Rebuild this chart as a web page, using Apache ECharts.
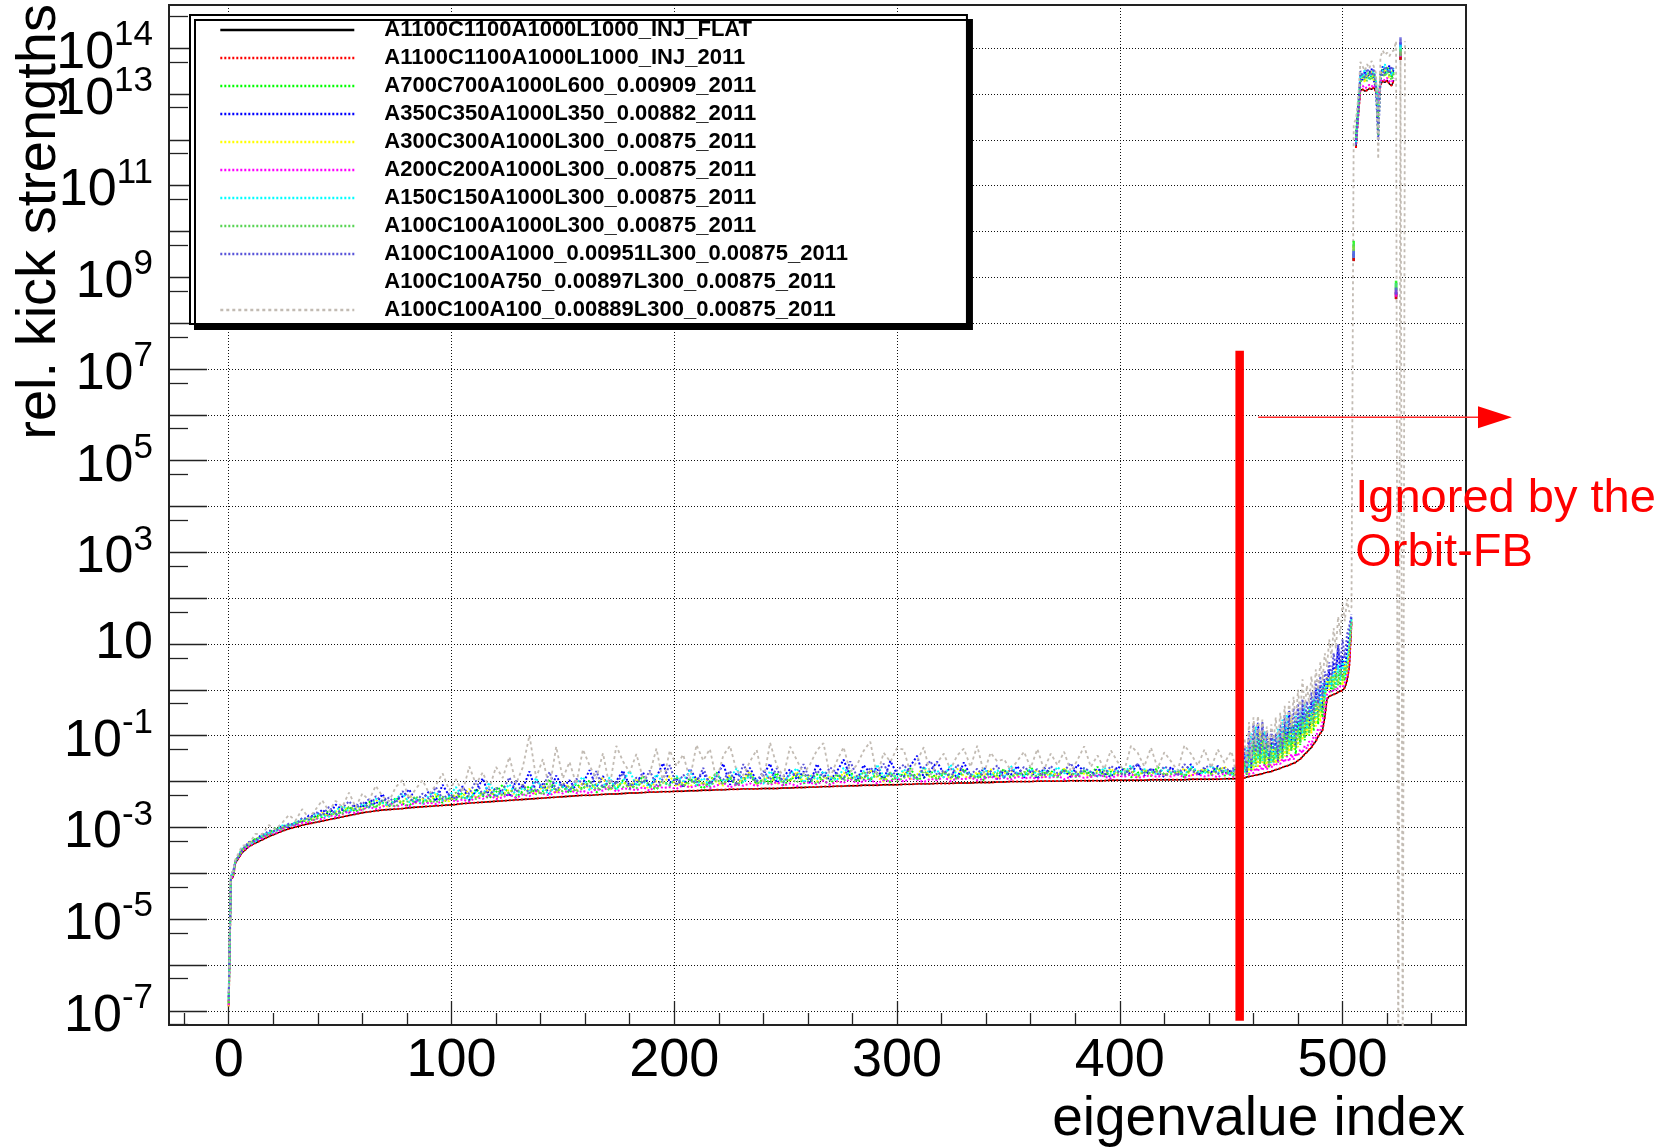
<!DOCTYPE html>
<html>
<head>
<meta charset="utf-8">
<title>rel. kick strengths vs eigenvalue index</title>
<script src="https://cdn.jsdelivr.net/npm/echarts@6/dist/echarts.min.js"></script>
<style>
  html, body { margin: 0; padding: 0; background: #ffffff; }
  #chart { width: 1676px; height: 1147px; }
</style>
</head>
<body>
<div id="chart"></div>
<script>
// Eigenvalue indices at which each spectrum is listed: every index at both
// ends, every third index along the flat middle part of the spectrum.
const eigIndex = [];
for (let i = 0; i <= 529; i += (i < 3 || i >= 450) ? 1 : 3) eigIndex.push(i);

// Tick positions (x: eigenvalue index, y: decade exponent)
const xMajorTicks = [0, 100, 200, 300, 400, 500];
const xMinorTicks = [-20, 20, 40, 60, 80, 120, 140, 160, 180, 220, 240, 260, 280, 320, 340, 360, 380, 420, 440, 460, 480, 520, 540];
const yDecades = [-7, -6, -5, -4, -3, -2, -1, 0, 1, 2, 3, 4, 5, 6, 7, 8, 9, 10, 11, 12, 13, 14];
const yLabelDecades = [-7, -5, -3, -1, 1, 3, 5, 7, 9, 11, 13, 14];

// Configuration names, in legend order
const configNames = [
  'A1100C1100A1000L1000_INJ_FLAT',
  'A1100C1100A1000L1000_INJ_2011',
  'A700C700A1000L600_0.00909_2011',
  'A350C350A1000L350_0.00882_2011',
  'A300C300A1000L300_0.00875_2011',
  'A200C200A1000L300_0.00875_2011',
  'A150C150A1000L300_0.00875_2011',
  'A100C100A1000L300_0.00875_2011',
  'A100C100A1000_0.00951L300_0.00875_2011',
  'A100C100A750_0.00897L300_0.00875_2011',
  'A100C100A100_0.00889L300_0.00875_2011'
];

// log10 of the relative kick strength, one value per entry of eigIndex
const flatLog = [
  -6.90, -4.12, -4.08,
  -3.78, -3.55, -3.42, -3.34, -3.27, -3.20, -3.14, -3.08, -3.03, -2.99,
  -2.95, -2.92, -2.89, -2.86, -2.83, -2.80, -2.77, -2.74, -2.71, -2.68,
  -2.66, -2.64, -2.62, -2.61, -2.60, -2.59, -2.57, -2.56, -2.55, -2.54,
  -2.53, -2.52, -2.51, -2.50, -2.48, -2.47, -2.46, -2.45, -2.44, -2.43,
  -2.42, -2.41, -2.40, -2.39, -2.38, -2.37, -2.36, -2.35, -2.34, -2.33,
  -2.32, -2.31, -2.30, -2.30, -2.29, -2.28, -2.27, -2.27, -2.26, -2.25,
  -2.25, -2.24, -2.23, -2.23, -2.22, -2.22, -2.21, -2.21, -2.20, -2.20,
  -2.19, -2.19, -2.18, -2.18, -2.17, -2.17, -2.16, -2.16, -2.16, -2.15,
  -2.15, -2.15, -2.14, -2.14, -2.13, -2.13, -2.12, -2.12, -2.11, -2.11,
  -2.10, -2.10, -2.09, -2.09, -2.08, -2.08, -2.08, -2.07, -2.07, -2.07,
  -2.06, -2.06, -2.05, -2.05, -2.05, -2.04, -2.04, -2.04, -2.03, -2.03,
  -2.03, -2.02, -2.02, -2.02, -2.01, -2.01, -2.00, -2.00, -2.00, -2.00,
  -1.99, -1.99, -1.99, -1.99, -1.99, -1.98, -1.98, -1.98, -1.98, -1.98,
  -1.98, -1.97, -1.97, -1.97, -1.97, -1.97, -1.97, -1.96, -1.96, -1.96,
  -1.96, -1.96, -1.96, -1.95, -1.95, -1.95, -1.95, -1.95, -1.94, -1.94,
  -1.94, -1.94, -1.93, -1.93, -1.93, -1.92, -1.90, -1.89, -1.88, -1.87,
  -1.86, -1.85, -1.84, -1.83, -1.81, -1.80, -1.79, -1.78, -1.76, -1.74,
  -1.73, -1.71, -1.69, -1.67, -1.66, -1.64, -1.62, -1.60, -1.58, -1.54,
  -1.51, -1.46, -1.40, -1.36, -1.30, -1.26, -1.18, -1.12, -1.02, -0.95,
  -0.88, -0.60, -0.20, -0.14, -0.12, -0.10, -0.08, -0.05, -0.03, -0.01,
  0.05, 0.20, 0.50, 1.45,
  9.43, 11.82, 12.50, 13.08, 13.10, 13.06, 13.08, 13.12, 13.10, 13.14,
  13.05, 12.85, 13.20, 13.28, 13.25, 13.30, 13.22, 13.18, 13.30, 8.60,
  null, 13.82, null, null, null
];

// the 2011 injection optics gives the same spectrum as the flat one
const inj2011Log = flatLog.slice();

const a700Log = [
  -6.85, -4.08, -4.02,
  -3.75, -3.47, -3.37, -3.24, -3.23, -3.13, -3.02, -3.02, -2.94, -2.94,
  -2.85, -2.88, -2.74, -2.78, -2.63, -2.74, -2.65, -2.56, -2.66, -2.54,
  -2.44, -2.55, -2.46, -2.54, -2.35, -2.48, -2.53, -2.37, -2.42, -2.46,
  -2.32, -2.46, -2.36, -2.40, -2.24, -2.42, -2.16, -2.31, -2.36, -2.23,
  -2.07, -2.29, -2.34, -2.21, -2.10, -2.28, -2.21, -1.95, -2.23, -2.11,
  -2.25, -2.05, -2.17, -1.97, -2.24, -2.11, -2.03, -2.17, -1.97, -2.17,
  -2.06, -1.88, -2.11, -2.17, -2.00, -2.07, -1.90, -2.12, -1.93, -2.06,
  -2.15, -1.99, -1.80, -2.07, -1.92, -2.10, -2.00, -1.86, -2.06, -1.94,
  -2.02, -1.81, -2.08, -1.96, -1.87, -2.04, -1.98, -1.84, -1.99, -2.06,
  -1.87, -1.93, -1.77, -2.01, -1.88, -1.97, -1.81, -1.92, -2.01, -1.83,
  -1.87, -1.71, -1.95, -1.92, -1.76, -1.97, -1.82, -1.88, -1.94, -1.72,
  -1.91, -1.84, -1.97, -1.77, -1.87, -1.73, -1.92, -1.80, -1.89, -1.67,
  -1.93, -1.82, -1.76, -1.89, -1.72, -1.85, -1.91, -1.77, -1.83, -1.68,
  -1.89, -1.78, -1.85, -1.72, -1.91, -1.81, -1.75, -1.88, -1.68, -1.85,
  -1.82, -1.76, -1.91, -1.71, -1.85, -1.77, -1.82, -1.69, -1.87, -1.79,
  -1.85, -1.70, -1.88, -1.80, -1.90, -1.62, -1.85, -1.40, -1.78, -1.20,
  -1.60, -0.95, -1.55, -1.10, -1.65, -1.30, -1.70, -1.15, -1.55, -1.35,
  -1.60, -1.20, -1.50, -0.90, -1.45, -0.75, -1.30, -1.05, -1.40, -0.70,
  -1.20, -0.55, -1.10, -0.65, -1.00, -0.45, -0.90, -0.30, -0.75, -0.20,
  -0.60, -0.10, 0.10, 0.25, -0.05, 0.30, 0.05, 0.40, 0.10, 0.35,
  0.20, 0.55, 0.80, 1.55,
  9.72, 12.10, 12.75, 13.35, 13.45, 13.30, 13.40, 13.50, 13.35, 13.42,
  13.25, 12.50, 13.45, 13.55, 13.40, 13.60, 13.45, 13.35, 13.50, 8.85,
  null, 13.90, null, null, null
];

const a350Log = [
  -6.80, -4.10, -4.00,
  -3.73, -3.53, -3.33, -3.28, -3.15, -3.17, -3.06, -2.97, -2.99, -2.89,
  -2.88, -2.74, -2.77, -2.61, -2.74, -2.50, -2.62, -2.68, -2.49, -2.57,
  -2.38, -2.50, -2.27, -2.53, -2.41, -2.33, -2.17, -2.44, -2.38, -2.21,
  -2.43, -2.07, -2.31, -2.35, -2.10, -2.40, -2.21, -1.93, -2.31, -2.13,
  -2.24, -2.32, -1.98, -2.15, -1.78, -2.23, -2.05, -2.27, -1.87, -2.13,
  -1.97, -2.19, -2.04, -1.75, -2.12, -1.88, -2.18, -1.99, -1.76, -2.10,
  -2.03, -1.80, -2.12, -1.90, -1.60, -2.03, -1.94, -2.13, -1.72, -1.96,
  -1.81, -2.05, -1.89, -1.61, -2.07, -1.81, -1.95, -1.70, -2.00, -1.85,
  -1.61, -2.03, -1.89, -1.73, -1.95, -1.78, -2.04, -1.62, -1.84, -1.97,
  -1.78, -1.52, -1.89, -1.98, -1.64, -1.82, -1.70, -1.98, -1.55, -1.84,
  -1.90, -1.66, -1.44, -1.92, -1.76, -1.57, -1.83, -1.70, -1.93, -1.58,
  -1.88, -1.92, -1.70, -1.84, -1.94, -1.76, -1.86, -1.66, -1.91, -1.78,
  -1.94, -1.70, -1.83, -1.87, -1.76, -1.90, -1.63, -1.79, -1.87, -1.72,
  -1.82, -1.90, -1.67, -1.76, -1.84, -1.61, -1.87, -1.72, -1.79, -1.90,
  -1.68, -1.85, -1.76, -1.62, -1.87, -1.72, -1.80, -1.66, -1.82, -1.76,
  -1.75, -1.88, -1.60, -1.85, -1.78, -1.40, -1.80, -1.05, -1.70, -0.85,
  -1.45, -0.72, -1.30, -0.80, -1.50, -0.95, -1.60, -1.00, -1.40, -1.10,
  -1.55, -0.95, -1.35, -0.70, -1.20, -0.45, -1.10, -0.80, -1.25, -0.40,
  -1.00, -0.35, -0.90, -0.50, -0.80, -0.25, -0.70, 0.00, -0.50, 0.10,
  -0.40, 0.20, 0.00, 0.45, 0.10, 0.60, 0.25, 0.96, 0.30, 0.75,
  0.40, 0.90, 1.20, 1.60,
  9.55, 12.00, 12.70, 13.40, 13.30, 13.50, 13.35, 13.45, 13.55, 13.30,
  13.10, 12.00, 13.30, 13.60, 13.45, 13.50, 13.62, 13.40, 13.55, 8.70,
  null, 14.05, null, null, null
];

const a300Log = [
  -6.90, -4.05, -4.04,
  -3.72, -3.52, -3.33, -3.29, -3.16, -3.13, -3.10, -2.98, -2.95, -2.93,
  -2.83, -2.86, -2.80, -2.68, -2.76, -2.66, -2.55, -2.64, -2.55, -2.60,
  -2.51, -2.40, -2.52, -2.55, -2.40, -2.46, -2.29, -2.47, -2.38, -2.43,
  -2.27, -2.40, -2.43, -2.28, -2.33, -2.16, -2.36, -2.27, -2.17, -2.36,
  -2.28, -2.17, -2.31, -2.06, -2.22, -2.26, -2.10, -2.16, -2.26, -2.03,
  -2.14, -2.21, -2.02, -2.17, -2.07, -1.92, -2.18, -2.10, -2.01, -2.13,
  -1.94, -2.09, -2.15, -1.99, -2.03, -1.88, -2.10, -2.01, -2.13, -1.93,
  -2.07, -1.90, -2.01, -2.09, -1.85, -2.03, -1.93, -1.78, -2.06, -1.96,
  -1.89, -2.07, -1.93, -1.99, -1.78, -2.02, -1.84, -1.99, -1.92, -1.87,
  -2.01, -1.80, -1.93, -1.87, -1.96, -1.75, -1.90, -2.00, -1.82, -1.93,
  -1.78, -1.95, -1.85, -1.69, -1.92, -1.87, -1.78, -1.95, -1.72, -1.88,
  -1.93, -1.79, -1.88, -1.73, -1.93, -1.82, -1.75, -1.88, -1.79, -1.84,
  -1.75, -1.90, -1.81, -1.86, -1.72, -1.87, -1.78, -1.83, -1.90, -1.76,
  -1.84, -1.71, -1.87, -1.80, -1.76, -1.90, -1.73, -1.84, -1.77, -1.87,
  -1.76, -1.83, -1.71, -1.87, -1.77, -1.73, -1.84, -1.79, -1.67, -1.84,
  -1.90, -1.80, -1.86, -1.72, -1.88, -1.70, -1.55, -1.82, -1.30, -1.75,
  -1.10, -1.70, -0.90, -1.60, -1.20, -1.72, -1.05, -1.65, -1.25, -1.60,
  -1.00, -1.55, -0.80, -1.45, -0.95, -1.40, -0.60, -1.30, -0.85, -1.25,
  -0.50, -1.10, -0.70, -1.00, -0.40, -0.95, -0.35, -0.80, -0.15, -0.70,
  0.05, -0.40, 0.30, 0.00, 0.35, 0.05, 0.50, 0.15, 0.45, 0.10,
  0.60, 0.35, 0.90, 1.50,
  9.60, 11.95, 12.60, 13.30, 13.40, 13.25, 13.45, 13.35, 13.50, 13.30,
  13.20, 12.60, 13.50, 13.40, 13.55, 13.45, 13.35, 13.50, 13.40, 8.75,
  null, 13.95, null, null, null
];

const a200Log = [
  -6.88, -4.11, -4.06,
  -3.76, -3.51, -3.41, -3.29, -3.24, -3.14, -3.12, -3.04, -2.96, -2.96,
  -2.90, -2.90, -2.81, -2.82, -2.73, -2.77, -2.71, -2.65, -2.69, -2.61,
  -2.55, -2.60, -2.55, -2.48, -2.55, -2.50, -2.54, -2.44, -2.49, -2.46,
  -2.49, -2.42, -2.37, -2.44, -2.39, -2.44, -2.34, -2.38, -2.29, -2.38,
  -2.34, -2.28, -2.36, -2.28, -2.32, -2.21, -2.27, -2.30, -2.22, -2.26,
  -2.18, -2.25, -2.20, -2.26, -2.16, -2.20, -2.10, -2.22, -2.15, -2.16,
  -2.19, -2.12, -2.20, -2.08, -2.14, -2.12, -2.16, -2.07, -2.13, -2.09,
  -2.06, -2.14, -2.09, -2.02, -2.13, -2.06, -2.09, -2.04, -2.10, -2.00,
  -2.07, -2.01, -2.09, -2.04, -2.10, -2.01, -2.03, -2.06, -1.98, -2.07,
  -1.99, -2.03, -1.94, -2.04, -1.99, -1.96, -2.04, -1.97, -1.99, -1.93,
  -2.00, -1.93, -1.96, -2.01, -1.94, -1.97, -1.90, -1.99, -1.93, -1.95,
  -1.91, -1.97, -1.94, -1.89, -1.95, -1.91, -1.96, -1.89, -1.93, -1.91,
  -1.94, -1.89, -1.92, -1.87, -1.95, -1.89, -1.87, -1.92, -1.90, -1.85,
  -1.89, -1.93, -1.86, -1.90, -1.84, -1.92, -1.89, -1.86, -1.90, -1.84,
  -1.89, -1.84, -1.91, -1.86, -1.84, -1.89, -1.85, -1.91, -1.81, -1.86,
  -1.90, -1.88, -1.89, -1.86, -1.90, -1.85, -1.80, -1.84, -1.75, -1.82,
  -1.70, -1.78, -1.65, -1.76, -1.62, -1.74, -1.60, -1.70, -1.62, -1.66,
  -1.55, -1.62, -1.50, -1.58, -1.45, -1.56, -1.40, -1.52, -1.38, -1.45,
  -1.30, -1.38, -1.22, -1.28, -1.12, -1.20, -1.02, -1.05, -0.85, -0.88,
  -0.70, -0.45, -0.10, -0.05, 0.00, -0.04, 0.05, 0.02, 0.08, 0.06,
  0.15, 0.30, 0.60, 1.48,
  9.50, 11.90, 12.55, 13.15, 13.18, 13.12, 13.15, 13.20, 13.16, 13.20,
  13.10, 12.80, 13.28, 13.32, 13.30, 13.35, 13.28, 13.25, 13.35, 8.65,
  null, 13.88, null, null, null
];

const a150Log = [
  -6.75, -4.06, -3.98,
  -3.74, -3.46, -3.36, -3.31, -3.17, -3.12, -3.09, -2.96, -2.96, -2.90,
  -2.81, -2.84, -2.69, -2.75, -2.77, -2.63, -2.53, -2.65, -2.58, -2.49,
  -2.56, -2.37, -2.47, -2.53, -2.38, -2.26, -2.45, -2.38, -2.48, -2.29,
  -2.23, -2.41, -2.32, -2.12, -2.34, -2.38, -2.22, -2.29, -2.02, -2.31,
  -2.22, -2.06, -2.30, -2.13, -2.23, -1.92, -2.18, -2.27, -2.03, -2.11,
  -2.19, -2.03, -1.90, -2.19, -2.05, -2.11, -1.91, -2.18, -1.99, -1.77,
  -2.09, -1.99, -2.13, -1.84, -2.02, -2.08, -1.88, -1.99, -1.76, -2.08,
  -1.92, -2.10, -1.83, -2.00, -1.93, -1.71, -2.03, -1.86, -1.97, -2.05,
  -1.77, -1.94, -2.00, -1.85, -1.71, -2.02, -1.87, -1.95, -1.77, -1.91,
  -1.98, -1.70, -1.86, -1.93, -1.77, -1.99, -1.63, -1.88, -1.81, -1.93,
  -1.73, -1.88, -1.95, -1.68, -1.83, -1.76, -1.91, -1.63, -1.87, -1.79,
  -1.83, -1.91, -1.72, -1.87, -1.75, -1.92, -1.66, -1.82, -1.88, -1.72,
  -1.85, -1.74, -1.91, -1.68, -1.82, -1.76, -1.86, -1.71, -1.79, -1.88,
  -1.69, -1.84, -1.76, -1.81, -1.64, -1.88, -1.73, -1.78, -1.85, -1.70,
  -1.81, -1.74, -1.86, -1.67, -1.78, -1.83, -1.65, -1.81, -1.74, -1.85,
  -1.82, -1.65, -1.85, -1.75, -1.62, -1.80, -1.25, -1.70, -0.95, -1.65,
  -0.80, -1.50, -1.00, -1.55, -0.90, -1.45, -1.20, -1.60, -1.05, -1.50,
  -0.85, -1.40, -0.65, -1.30, -0.55, -1.20, -0.75, -1.15, -0.50, -1.00,
  -0.45, -0.95, -0.30, -0.85, -0.35, -0.70, -0.15, -0.60, 0.05, -0.45,
  0.15, -0.20, 0.25, 0.23, 0.05, 0.40, 0.10, 0.55, 0.20, 0.65,
  0.30, 0.70, 1.00, 1.58,
  9.50, 11.95, 12.65, 13.45, 13.35, 13.55, 13.40, 13.30, 13.45, 13.50,
  13.30, 12.65, 13.40, 13.50, 13.65, 13.45, 13.55, 13.40, 13.60, 8.80,
  null, 14.00, null, null, null
];

const a100Log = [
  -6.82, -4.09, -4.03,
  -3.73, -3.48, -3.39, -3.26, -3.21, -3.16, -3.05, -3.03, -2.96, -2.89,
  -2.87, -2.79, -2.84, -2.70, -2.74, -2.68, -2.70, -2.55, -2.61, -2.62,
  -2.52, -2.56, -2.41, -2.50, -2.54, -2.42, -2.44, -2.32, -2.46, -2.39,
  -2.46, -2.33, -2.39, -2.24, -2.38, -2.31, -2.38, -2.23, -2.30, -2.14,
  -2.31, -2.23, -2.15, -2.30, -2.24, -2.16, -2.29, -2.08, -2.18, -2.21,
  -2.09, -2.22, -2.15, -2.00, -2.17, -2.09, -2.19, -2.02, -2.12, -2.05,
  -2.15, -1.96, -2.07, -2.16, -2.01, -2.09, -1.90, -2.10, -2.02, -1.96,
  -2.04, -2.11, -1.96, -2.05, -1.90, -2.07, -1.97, -1.82, -2.04, -1.98,
  -2.06, -1.90, -2.00, -1.94, -2.02, -1.84, -1.96, -2.05, -1.88, -1.98,
  -1.84, -1.98, -1.91, -2.00, -1.78, -1.93, -1.87, -1.96, -1.80, -1.99,
  -1.92, -1.84, -1.95, -1.77, -1.89, -1.93, -1.80, -1.85, -1.95, -1.78,
  -1.86, -1.93, -1.79, -1.90, -1.82, -1.75, -1.90, -1.85, -1.79, -1.87,
  -1.88, -1.79, -1.85, -1.91, -1.75, -1.82, -1.86, -1.76, -1.89, -1.80,
  -1.76, -1.87, -1.80, -1.84, -1.71, -1.89, -1.78, -1.82, -1.75, -1.85,
  -1.84, -1.78, -1.87, -1.72, -1.81, -1.75, -1.85, -1.70, -1.78, -1.81,
  -1.88, -1.78, -1.84, -1.68, -1.86, -1.55, -1.82, -1.30, -1.74, -1.05,
  -1.68, -1.25, -1.62, -0.95, -1.58, -1.15, -1.66, -1.35, -1.60, -1.25,
  -1.52, -1.05, -1.48, -0.85, -1.40, -0.95, -1.35, -0.70, -1.28, -0.85,
  -1.15, -0.60, -1.05, -0.45, -0.95, -0.55, -0.80, -0.25, -0.60, -0.30,
  -0.50, 0.00, 0.05, 0.15, 0.30, 0.00, 0.35, 0.10, 0.45, 0.20,
  0.50, 0.40, 0.85, 1.52,
  9.65, 12.05, 12.70, 13.25, 13.35, 13.40, 13.28, 13.38, 13.30, 13.45,
  13.15, 12.10, 13.35, 13.45, 13.38, 13.50, 13.40, 13.30, 13.45, 8.80,
  null, 13.90, null, null, null
];

const a100x951Log = [
  -6.70, -4.04, -3.96,
  -3.75, -3.49, -3.32, -3.30, -3.19, -3.07, -3.08, -2.99, -2.92, -2.94,
  -2.79, -2.83, -2.66, -2.74, -2.55, -2.72, -2.58, -2.43, -2.60, -2.44,
  -2.57, -2.32, -2.44, -2.35, -2.47, -2.21, -2.36, -2.46, -2.26, -2.38,
  -2.12, -2.38, -2.26, -2.39, -2.13, -2.27, -1.98, -2.29, -2.17, -2.34,
  -2.18, -1.91, -2.23, -2.07, -2.26, -1.98, -2.14, -1.79, -2.19, -2.03,
  -2.21, -1.94, -2.04, -2.12, -1.77, -2.14, -1.96, -2.06, -1.81, -2.15,
  -1.91, -2.04, -1.76, -2.08, -1.94, -1.64, -2.09, -1.85, -1.97, -2.03,
  -1.70, -2.06, -1.88, -1.96, -1.77, -2.08, -1.62, -1.91, -2.00, -1.77,
  -1.96, -1.71, -2.03, -1.81, -1.86, -1.62, -1.98, -1.76, -1.90, -1.69,
  -1.82, -1.95, -1.56, -1.89, -1.96, -1.69, -1.84, -1.61, -1.90, -1.76,
  -1.63, -1.84, -1.91, -1.70, -1.55, -1.86, -1.75, -1.92, -1.63, -1.78,
  -1.85, -1.72, -1.90, -1.78, -1.65, -1.92, -1.73, -1.85, -1.68, -1.80,
  -1.73, -1.88, -1.66, -1.82, -1.77, -1.60, -1.85, -1.70, -1.79, -1.89,
  -1.84, -1.66, -1.77, -1.87, -1.70, -1.62, -1.81, -1.73, -1.84, -1.67,
  -1.75, -1.87, -1.62, -1.77, -1.82, -1.69, -1.65, -1.84, -1.70, -1.78,
  -1.70, -1.86, -1.55, -1.82, -1.70, -1.25, -1.75, -0.90, -1.60, -0.75,
  -1.35, -0.85, -1.40, -0.70, -1.30, -0.90, -1.45, -0.85, -1.30, -0.95,
  -1.40, -0.75, -1.25, -0.55, -1.10, -0.60, -0.95, -0.40, -1.00, -0.30,
  -0.85, -0.20, -0.70, -0.25, -0.60, -0.05, -0.50, 0.20, -0.30, 0.30,
  -0.15, 0.40, 0.20, 0.60, 0.30, 0.80, 0.45, 1.00, 0.55, 1.10,
  0.70, 1.20, 1.40, 1.65,
  9.50, 11.90, 12.60, 13.50, 13.40, 13.35, 13.55, 13.45, 13.40, 13.55,
  13.20, 12.20, 13.50, 13.40, 13.60, 13.55, 13.45, 13.60, 13.50, 8.70,
  null, 14.16, null, null, null
];

// drawn in white (ROOT colour 10); lies on the flat spectrum
const a750Log = flatLog.slice();

const a100x889Log = [
  -6.60, -4.00, -3.95,
  -3.70, -3.40, -3.37, -3.14, -3.15, -2.95, -3.04, -2.90, -2.73, -2.85,
  -2.60, -2.80, -2.61, -2.41, -2.65, -2.42, -2.55, -2.24, -2.56, -2.26,
  -2.41, -2.09, -2.32, -2.43, -2.12, -1.97, -2.37, -2.16, -1.97, -2.26,
  -2.08, -1.82, -2.19, -1.95, -2.23, -1.67, -2.06, -1.80, -2.14, -1.68,
  -1.92, -1.46, -2.05, -1.69, -0.99, -1.92, -1.51, -2.15, -1.24, -1.93,
  -1.57, -2.06, -1.30, -1.65, -1.94, -1.38, -2.12, -1.22, -1.56, -1.80,
  -1.40, -1.94, -1.83, -1.28, -2.02, -1.32, -1.66, -1.41, -1.95, -1.20,
  -1.54, -1.29, -1.98, -1.43, -1.22, -1.77, -1.86, -1.56, -1.31, -2.00,
  -1.15, -1.65, -1.89, -1.24, -1.53, -1.83, -1.62, -1.32, -1.16, -1.91,
  -1.55, -1.25, -1.79, -1.64, -1.33, -1.13, -1.88, -1.37, -1.57, -1.27,
  -1.30, -1.81, -1.55, -1.25, -1.85, -1.59, -1.39, -1.74, -1.43, -1.28,
  -1.68, -1.22, -1.82, -1.37, -1.56, -1.51, -1.75, -1.55, -1.35, -1.70,
  -1.29, -1.74, -1.39, -1.64, -1.35, -1.78, -1.53, -1.23, -1.68, -1.43,
  -1.73, -1.32, -1.57, -1.77, -1.22, -1.37, -1.67, -1.26, -1.71, -1.36,
  -1.56, -1.76, -1.21, -1.40, -1.65, -1.30, -1.70, -1.30, -1.59, -1.34,
  -1.50, -1.85, -1.35, -1.80, -1.45, -1.05, -1.70, -0.70, -1.50, -0.60,
  -1.20, -0.57, -1.10, -0.65, -1.25, -0.80, -1.35, -0.75, -1.15, -0.60,
  -1.20, -0.50, -1.05, -0.35, -0.90, -0.25, -0.80, -0.15, -0.70, 0.00,
  -0.55, 0.23, -0.40, 0.10, -0.30, 0.30, -0.20, 0.45, 0.00, 0.60,
  0.20, 0.80, 0.50, 1.10, 0.70, 1.35, 0.90, 1.60, 1.20, 1.90,
  1.50, 1.98, 1.70, 1.80,
  12.35, 12.45, 12.90, 13.70, 13.60, 13.50, 13.65, 13.55, 13.72, 13.60,
  13.45, 11.58, 13.80, 13.95, 13.85, 13.90, 13.82, 13.92, 13.95, 14.15,
  -9.00, 14.20, -9.00, 14.15, null
];

// indices after which the curves are not joined to the next point
const breakAfter = [504, 505, 523];

const FONT = '"Liberation Sans", Arial, Helvetica, sans-serif';

// line styles (ROOT colours 1..11; solid, dotted and dashed line styles)
const DOT = [2, 2];
const styles = [
  { vals: flatLog,      color: '#000000', type: 'solid', width: 1.4 },
  { vals: inj2011Log,   color: '#ff0000', type: DOT, width: 2 },
  { vals: a700Log,      color: '#00ff00', type: DOT, width: 2 },
  { vals: a350Log,      color: '#0000ff', type: DOT, width: 2 },
  { vals: a300Log,      color: '#ffff00', type: DOT, width: 2 },
  { vals: a200Log,      color: '#ff00ff', type: DOT, width: 2 },
  { vals: a150Log,      color: '#00ffff', type: DOT, width: 2 },
  { vals: a100Log,      color: '#59d454', type: DOT, width: 2 },
  { vals: a100x951Log,  color: '#5954d9', type: DOT, width: 2 },
  { vals: a750Log,      color: '#ffffff', type: DOT, width: 2 },
  { vals: a100x889Log,  color: '#c2bbb3', type: [3, 3], width: 1.8 }
];

// points of one curve as [index, value]; a null entry breaks the line
function curvePoints(vals, joined) {
  const pts = [];
  for (let p = 0; p < eigIndex.length; p++) {
    const x = eigIndex[p];
    const v = vals[p];
    pts.push([x, v === undefined ? null : v]);
    if (!joined && breakAfter.indexOf(x) >= 0) pts.push([x + 0.5, null]);
  }
  return pts;
}

// points with no neighbour on either side cannot show as a line
function lonePoints(pts) {
  return pts.filter((pt, k) => {
    const prev = pts[k - 1], next = pts[k + 1];
    return pt[1] !== null && (!prev || prev[1] === null) && (!next || next[1] === null);
  });
}

const lineSeries = [];
const loneMarks = [];
// the white curve goes underneath, the others in legend order
[9, 0, 1, 2, 3, 4, 5, 6, 7, 8, 10].forEach(i => {
  const s = styles[i];
  const pts = curvePoints(s.vals, i === 10);
  lineSeries.push({
    type: 'line',
    name: configNames[i],
    data: pts,
    xAxisIndex: 0,
    yAxisIndex: 0,
    symbol: 'none',
    showSymbol: false,
    connectNulls: false,
    clip: true,
    silent: true,
    animation: false,
    lineStyle: { color: s.color, width: s.width, type: s.type },
    itemStyle: { color: s.color },
    emphasis: { disabled: true }
  });
  if (i !== 9) lonePoints(pts).forEach(pt => loneMarks.push({ value: pt, itemStyle: { color: s.color } }));
});

const gridLine = { show: true, lineStyle: { color: '#111111', width: 1, type: [1, 2] } };
const frameColor = '#222222';

// decade labels: "10" with the exponent raised
function decadeLabel(v) {
  const e = Math.round(v);
  if (e === 1) return '{p|10}';
  return '{g|\u200b}{b|10}{s|' + e + '}';
}
const decadeRich = {
  p: { fontSize: 52, lineHeight: 40, height: 40, color: '#000', fontFamily: FONT },
  g: { fontSize: 10, lineHeight: 40, height: 10, color: '#000', fontFamily: FONT },
  b: { fontSize: 52, lineHeight: 29, height: 29, verticalAlign: 'bottom', color: '#000', fontFamily: FONT },
  s: { fontSize: 35, lineHeight: 15, height: 15, verticalAlign: 'top', color: '#000', fontFamily: FONT }
};
// the top decade label overlaps its neighbour (as drawn by ROOT), so it is
// carried by the second y axis where no overlap check can drop it
const topLabelDecade = yLabelDecades[yLabelDecades.length - 1];
const mainLabelDecades = yLabelDecades.slice(0, -1);

const chart = echarts.init(document.getElementById('chart'), null, { renderer: 'canvas' });

chart.setOption({
  backgroundColor: '#ffffff',
  animation: false,
  textStyle: { fontFamily: FONT },
  grid: {
    left: 169, right: 210, top: 5, bottom: 122,
    show: true, borderColor: frameColor, borderWidth: 2, backgroundColor: 'transparent'
  },
  xAxis: [
    {
      type: 'value', min: -26.8, max: 555.4, position: 'bottom',
      axisLine: { show: true, onZero: false, lineStyle: { color: frameColor, width: 2 } },
      axisTick: { show: true, inside: true, length: 24, customValues: xMajorTicks, lineStyle: { color: '#222', width: 1.3 } },
      axisLabel: { show: true, customValues: xMajorTicks, hideOverlap: false, showMinLabel: true, showMaxLabel: true, fontSize: 54, color: '#000', margin: 9, fontFamily: FONT },
      splitLine: gridLine
    },
    {
      type: 'value', min: -26.8, max: 555.4, position: 'bottom',
      axisLine: { show: false, onZero: false },
      axisTick: { show: true, inside: true, length: 12, customValues: xMinorTicks, lineStyle: { color: '#222', width: 1.3 } },
      axisLabel: { show: false },
      splitLine: { show: false }
    }
  ],
  yAxis: [
    {
      type: 'value', min: -7.31, max: 14.94, position: 'left',
      axisLine: { show: true, onZero: false, lineStyle: { color: frameColor, width: 2 } },
      axisTick: { show: true, inside: true, length: 38, customValues: yDecades, lineStyle: { color: '#222', width: 1.3 } },
      axisLabel: {
        show: true, customValues: mainLabelDecades, hideOverlap: false, showMinLabel: true, showMaxLabel: true,
        margin: 16, formatter: decadeLabel, rich: decadeRich
      },
      splitLine: gridLine
    },
    {
      type: 'value', min: -7.31, max: 14.94, position: 'left',
      axisLine: { show: false, onZero: false },
      axisTick: { show: true, inside: true, length: 19, customValues: yDecades.concat([15]).map(e => e + Math.log10(0.5)), lineStyle: { color: '#222', width: 1.3 } },
      axisLabel: {
        show: true, customValues: [topLabelDecade], hideOverlap: false, showMinLabel: true, showMaxLabel: true,
        margin: 16, formatter: decadeLabel, rich: decadeRich
      },
      splitLine: { show: false }
    }
  ],
  legend: {
    data: configNames,
    orient: 'vertical',
    left: 190, top: 15,
    padding: [3, 119, 2, 29],
    itemWidth: 134, itemHeight: 14, itemGap: 4,
    selectedMode: false,
    backgroundColor: '#ffffff',
    borderColor: '#000000', borderWidth: 2,
    shadowColor: '#000000', shadowBlur: 0, shadowOffsetX: 5, shadowOffsetY: 5,
    // only the line sample is shown, no marker on it
    itemStyle: { opacity: 0, borderWidth: 0 },
    lineStyle: { width: 2.6 },
    textStyle: { fontFamily: FONT, fontWeight: 'bold', fontSize: 22, lineHeight: 24, color: '#000', padding: [0, 0, 0, 25] }
  },
  series: lineSeries.concat([{
    type: 'scatter',
    name: 'isolated points',
    data: loneMarks,
    symbol: 'rect',
    symbolSize: [2.5, 7],
    silent: true,
    animation: false,
    z: 3
  }])
});

// annotations placed in data coordinates
const cutoffIndex = 453.8;
const px = (x, y) => chart.convertToPixel({ xAxisIndex: 0, yAxisIndex: 0 }, [x, y]);
const barTop = px(cutoffIndex, 7.4), barBottom = px(cutoffIndex, -7.22);
const arrowStart = px(462.1, 5.945), arrowBase = px(560.8, 5.945), arrowTip = px(576.0, 5.945);
const headHalf = px(560.8, 5.945 + 0.24)[1] - arrowBase[1];
const note1 = px(505.7, 4.155), note2 = px(505.7, 2.976);

chart.setOption({
  graphic: [
    {
      type: 'line', silent: true, z: 50,
      shape: { x1: barTop[0], y1: barTop[1], x2: barBottom[0], y2: barBottom[1] },
      style: { stroke: '#ff0000', lineWidth: 8.5 }
    },
    {
      type: 'line', silent: true, z: 50,
      shape: { x1: arrowStart[0], y1: arrowStart[1], x2: arrowBase[0], y2: arrowBase[1] },
      style: { stroke: '#ff2a2a', lineWidth: 1.5 }
    },
    {
      type: 'polygon', silent: true, z: 50,
      shape: { points: [[arrowBase[0], arrowBase[1] + headHalf], [arrowTip[0], arrowTip[1]], [arrowBase[0], arrowBase[1] - headHalf]] },
      style: { fill: '#ff0000' }
    },
    {
      type: 'text', silent: true, z: 50, x: note1[0], y: note1[1],
      style: { text: 'Ignored by the', fill: '#ff0000', font: '47px ' + FONT, textAlign: 'left', textVerticalAlign: 'middle' }
    },
    {
      type: 'text', silent: true, z: 50, x: note2[0], y: note2[1],
      style: { text: 'Orbit-FB', fill: '#ff0000', font: '47px ' + FONT, textAlign: 'left', textVerticalAlign: 'middle' }
    },
    {
      type: 'text', silent: true, z: 50, x: 1465, y: 1120,
      style: { text: 'eigenvalue index', fill: '#000', font: '55px ' + FONT, textAlign: 'right', textVerticalAlign: 'middle' }
    },
    {
      type: 'text', silent: true, z: 50, x: 40, y: 4, rotation: Math.PI / 2,
      style: { text: 'rel. kick strengths', fill: '#000', font: '56px ' + FONT, textAlign: 'right', textVerticalAlign: 'middle' }
    }
  ]
});
</script>
</body>
</html>
